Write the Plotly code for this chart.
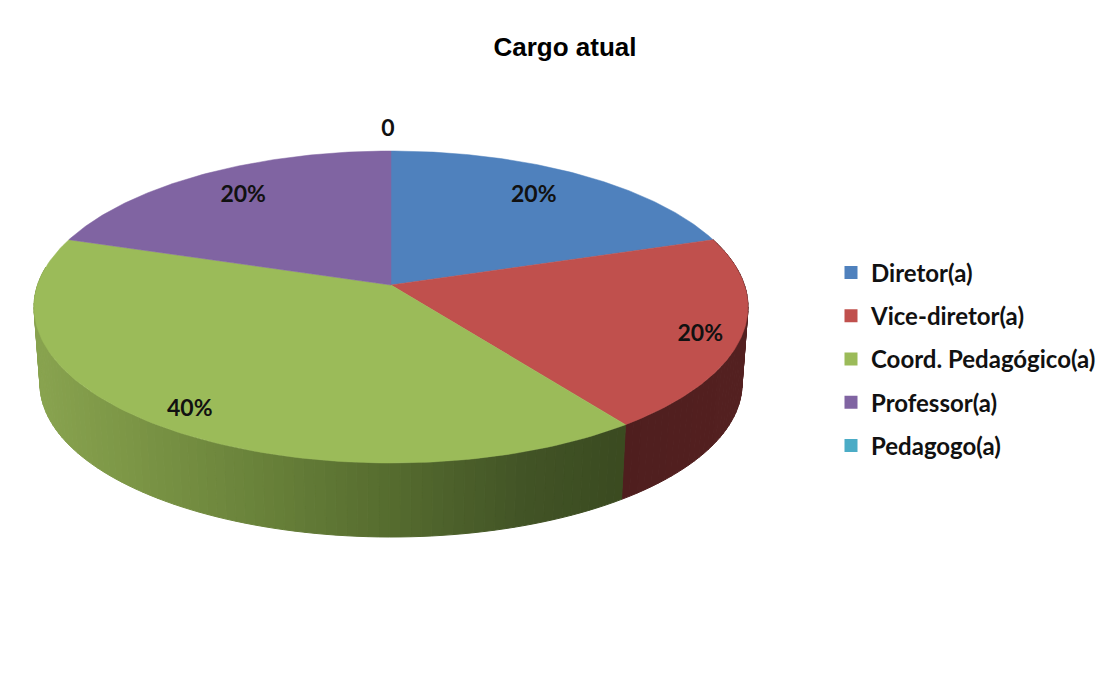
import numpy as np
import plotly.graph_objects as go

categories = ["Diretor(a)", "Vice-diretor(a)", "Coord. Pedagógico(a)", "Professor(a)", "Pedagogo(a)"]
values = [20, 20, 40, 20, 0]
point_labels = ["20%", "20%", "40%", "20%", "0"]
colors = ["#4f81bd", "#c0504d", "#9bbb59", "#8064a2", "#4bacc6"]
label_radius = [0.78, 0.89, 0.88, 0.78, 1.225]
label_dx = [-6, -2, 2, 1, -3]
label_dy = [0, 6, 4, 0, 5]

W, H = 1118, 681
PAGE = 8  # default body margin of the page
CX, CY, RX, RY = 391.0, 307.0, 357.0, 156.0
BCX, BCY, BRX, BRY = 391.0, 384.0, 351.0, 153.0
TILT = 0.141
S = np.sqrt(1 - TILT ** 2)


def fx(px):
    return (px - PAGE) / (W - 2 * PAGE)


def fy(py):
    return 1 - (py - PAGE) / (H - 2 * PAGE)


def project(theta, r=1.0, cx=CX, cy=CY, rx=RX, ry=RY):
    """Clockwise angle from 12 o'clock on the pie -> picture position (perspective disc)."""
    u = r * np.sin(theta)
    v = r * np.cos(theta)
    d = 1 + TILT * v
    return cx + rx * u * S / d, cy - ry * (v + TILT) / d


def mix(stops, x):
    xs = [s[0] for s in stops]
    out = [np.interp(x, xs, [s[1][i] for s in stops]) for i in range(3)]
    return "rgb(%d,%d,%d)" % tuple(int(round(c)) for c in out)


side_shades = {
    1: [(600, (78, 30, 30)), (750, (84, 32, 32))],
    2: [(30, (138, 165, 80)), (130, (124, 150, 70)), (260, (105, 130, 58)),
        (400, (84, 106, 46)), (520, (66, 84, 38)), (625, (58, 74, 32))],
}

total = sum(values)
edges = np.concatenate([[0], np.cumsum(values)]) / total * 2 * np.pi

fig = go.Figure()

# side wall
for i in range(len(values)):
    if values[i] == 0 or i not in side_shades:
        continue
    a0, a1 = edges[i], min(edges[i + 1], 1.5 * np.pi + 0.12)
    steps = max(2, int((a1 - a0) / np.radians(1.5)))
    grid = np.linspace(a0, a1, steps + 1)
    for s in range(steps):
        t = np.linspace(grid[s], grid[s + 1], 3)
        xt, yt = project(t)
        xb, yb = project(t, 1.0, BCX, BCY, BRX, BRY)
        xs = np.concatenate([xt, xb[::-1], xt[:1]])
        ys = np.concatenate([yt, yb[::-1], yt[:1]])
        c = mix(side_shades[i], float(xb.mean()))
        fig.add_trace(go.Scatter(x=xs, y=ys, mode="lines", fill="toself", fillcolor=c,
                                 line=dict(color=c, width=1), hoverinfo="skip", showlegend=False))

# top face
for i, (name, c) in enumerate(zip(categories, colors)):
    if values[i] == 0:
        continue
    t = np.linspace(edges[i], edges[i + 1], 120)
    xr, yr = project(t)
    ax, ay = project(0.0, 0.0)
    xs = np.concatenate([[ax], xr, [ax]])
    ys = np.concatenate([[ay], yr, [ay]])
    fig.add_trace(go.Scatter(x=xs, y=ys, mode="lines", fill="toself", fillcolor=c,
                             line=dict(color=c, width=0.5), name=name, hoverinfo="skip", showlegend=False))

# data labels
mid = (edges[:-1] + edges[1:]) / 2
lx, ly = project(mid, np.array(label_radius))
lx = lx + np.array(label_dx)
ly = ly + np.array(label_dy)
fig.add_trace(go.Scatter(x=lx, y=ly, mode="text", text=point_labels, textposition="middle center",
                         textfont=dict(family="Lato", size=23, color="#111111", weight=700),
                         hoverinfo="skip", showlegend=False))

# legend
for i, (name, c) in enumerate(zip(categories, colors)):
    fig.add_trace(go.Scatter(x=[None], y=[None], mode="markers", name=name, legendgroup=name,
                             marker=dict(symbol="square", size=13, color=c)))

fig.update_layout(
    width=W - 2 * PAGE, height=H - 2 * PAGE,
    margin=dict(l=0, r=0, t=0, b=0),
    paper_bgcolor="white", plot_bgcolor="white",
    xaxis=dict(visible=False, range=[PAGE, W - PAGE], fixedrange=True),
    yaxis=dict(visible=False, range=[H - PAGE, PAGE], fixedrange=True),
    title=dict(text="<b>Cargo atual</b>", x=fx(565), xanchor="center", y=fy(47), yanchor="middle",
               font=dict(family="Liberation Sans", size=26, color="black")),
    legend=dict(x=fx(831), xanchor="left", y=fy(250.5), yanchor="top", tracegroupgap=9,
                bgcolor="rgba(0,0,0,0)",
                font=dict(family="Lato", size=24, color="#111111", weight=700)),
)

fig.write_html("out.html")
